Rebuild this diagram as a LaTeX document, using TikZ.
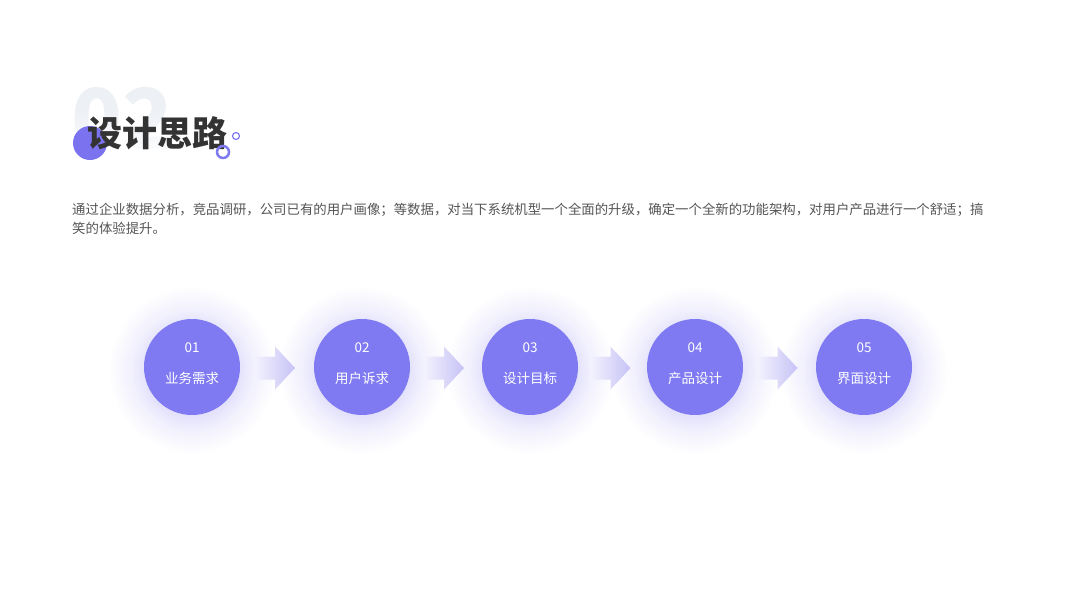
\documentclass[tikz,border=0pt]{standalone}
\usepackage{fontspec}
\newfontfamily\cjk{Noto Sans CJK SC}
\usetikzlibrary{calc,fadings}
\definecolor{pur}{HTML}{7F7AF1}
\definecolor{dotc}{HTML}{7B72EF}
\definecolor{glowa}{HTML}{E4E2FB}
\definecolor{glowb}{HTML}{F1F0FD}
\definecolor{arrL}{HTML}{F3F2FD}
\definecolor{arrR}{HTML}{C6C2F6}
\definecolor{titc}{HTML}{333333}
\definecolor{bodyc}{HTML}{555555}
\definecolor{bgnum}{HTML}{EDF0F5}
\pgfdeclareradialshading{glow}{\pgfpoint{0bp}{0bp}}{color(0bp)=(glowa); color(14bp)=(glowa); color(18bp)=(glowb); color(25bp)=(white); color(50bp)=(white)}
\tikzfading[name=fadedown, top color=transparent!100, bottom color=transparent!0]
\begin{document}
\begin{tikzpicture}[x=1pt,y=-1pt,
  stepc/.style={circle, fill=pur, minimum size=96pt, inner sep=0pt},
  lbl/.style={inner sep=0pt, text=white, font=\cjk\fontsize{13.5}{14}\selectfont},
  body/.style={anchor=base west, inner sep=0pt, text=bodyc, font=\cjk\fontsize{13.4}{16}\selectfont},
  arrowshape/.style={left color=arrL, right color=arrR}]
\useasboundingbox (0,0) rectangle (1067,600);
\fill[white] (0,0) rectangle (1067,600);

% background number
\node[anchor=base west, inner sep=0pt, text=bgnum, font=\cjk\bfseries\fontsize{84}{84}\selectfont] (bgnum) at (71,149) {02};
\fill[white, path fading=fadedown] (60,108) rectangle (180,162);

% title decorations
\fill[dotc] (90,143) circle (17);
\node[anchor=west, inner sep=0pt, text=titc, font=\cjk\bfseries\fontsize{35}{35}\selectfont] (title) at (87,133) {设计思路};
\draw[pur, line width=2.5pt] (223,152) circle (6);
\draw[pur, line width=1.2pt] (236,136) circle (3.5);

% body text
\node[body] (line1) at (72,214) {通过企业数据分析，竞品调研，公司已有的用户画像；等数据，对当下系统机型一个全面的升级，确定一个全新的功能架构，对用户产品进行一个舒适；搞};
\node[body] (line2) at (72,233) {笑的体验提升。};

% glows
\foreach \x in {192,362,530,695,864}
  \shade[shading=glow] (\x,370) circle (84);

% steps
\foreach \x/\n/\t [count=\i] in {192/01/业务需求, 362/02/用户诉求, 530/03/设计目标, 695/04/产品设计, 864/05/界面设计}{
  \node[stepc] (c\i) at (\x,367) {};
  \node[lbl] (n\i) at (\x,347.5) {\n};
  \node[lbl] (t\i) at (\x,378) {\t};
}

% arrows
\foreach \a/\b in {1/2,2/3,3/4,4/5}{
  \coordinate (m\a) at ($(c\a)!0.5!(c\b)+(0,1)$);
  \shade[arrowshape] ($(m\a)+(-22,-11.5)$) -- ($(m\a)+(-2,-11.5)$) -- ($(m\a)+(-2,-21.5)$)
     -- ($(m\a)+(18,0)$) -- ($(m\a)+(-2,21.5)$) -- ($(m\a)+(-2,11.5)$) -- ($(m\a)+(-22,11.5)$) -- cycle;
}
\end{tikzpicture}
\end{document}
